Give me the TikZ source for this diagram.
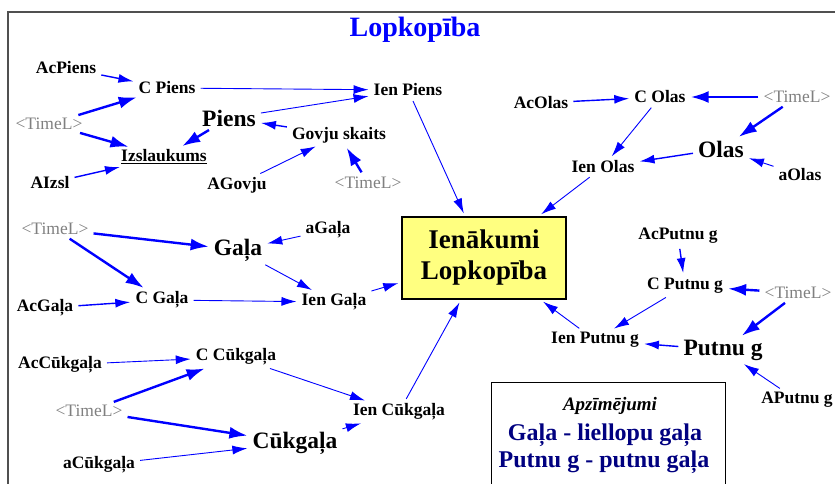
\documentclass[tikz,border=0pt]{standalone}
\usepackage{fontspec}
\setmainfont{Liberation Serif}
\usepackage{tikz}
\usetikzlibrary{arrows.meta}

\definecolor{pureblue}{RGB}{0,0,255}
\definecolor{navy}{RGB}{0,0,128}
\definecolor{framegray}{RGB}{80,80,80}
\definecolor{boxyellow}{RGB}{255,255,128}

\tikzset{
    lbl/.style={font=\bfseries\fontsize{17.5}{19}\selectfont, inner sep=2pt},
    big/.style={font=\bfseries\fontsize{23.5}{26}\selectfont, inner sep=2pt},
    timel/.style={font=\fontsize{17.5}{19}\selectfont, text=gray, inner sep=2pt},
    arr/.style={draw=pureblue, line width=0.9pt, -{Latex[length=15pt,width=9pt]},
        shorten <=3pt, shorten >=3pt},
    tarr/.style={draw=pureblue, line width=2.4pt, -{Latex[length=18pt,width=12pt]},
        shorten <=3pt, shorten >=3pt}
}

\begin{document}
\begin{tikzpicture}[x=1pt, y=-1pt]
    \useasboundingbox (0,0) rectangle (835,484);
    \draw[framegray, line width=1.5pt] (8,484) -- (8,12) -- (835,12);

    \node[font=\bfseries\fontsize{28}{30}\selectfont, text=pureblue] (title) at (415,30) {Lopkopība};

    \node[draw, line width=1.8pt, fill=boxyellow, minimum width=164pt, minimum height=82pt,
        align=center, font=\bfseries\fontsize{27}{31}\selectfont] (ien) at (484,258) {Ienākumi\\Lopkopība};

    \node[draw=black, line width=1pt, minimum width=234pt, minimum height=110pt] (legend) at (608,437) {};
    \node[font=\bfseries\itshape\fontsize{19}{21}\selectfont] (apz) at (610,406) {Apzīmējumi};
    \node[font=\bfseries\fontsize{24}{26}\selectfont, text=navy] (leg1) at (605,435) {Gaļa - liellopu gaļa};
    \node[font=\bfseries\fontsize{24}{26}\selectfont, text=navy] (leg2) at (604,462) {Putnu g - putnu gaļa};

    \node[lbl] (acpiens) at (66,68) {AcPiens};
    \node[lbl] (cpiens) at (167,88) {C Piens};
    \node[lbl] (ienpiens) at (408,90) {Ien Piens};
    \node[timel] (timea) at (49,124) {<TimeL>};
    \node[big] (piens) at (229,118) {Piens};
    \node[lbl] (govju) at (339,135) {Govju skaits};
    \node[lbl] (izsl) at (164,157) {\underline{Izslaukums}};
    \node[lbl] (aizsl) at (50,183) {AIzsl};
    \node[lbl] (agovju) at (237,185) {AGovju};
    \node[timel] (timeb) at (368,183) {<TimeL>};

    \node[lbl] (acolas) at (541,103) {AcOlas};
    \node[lbl] (colas) at (660,97) {C Olas};
    \node[timel] (timec) at (797,97) {<TimeL>};
    \node[big] (olas) at (721,149) {Olas};
    \node[lbl] (ienolas) at (603,167) {Ien Olas};
    \node[lbl] (aolas) at (800,175) {aOlas};

    \node[timel] (timed) at (55,229) {<TimeL>};
    \node[big] (gala) at (238,250) {Gaļa};
    \node[lbl] (agala) at (328,230) {aGaļa};
    \node[lbl] (cgala) at (162,300) {C Gaļa};
    \node[lbl] (iengala) at (334,302) {Ien Gaļa};
    \node[lbl] (acgala) at (45,308) {AcGaļa};

    \node[lbl] (acputnu) at (678,236) {AcPutnu g};
    \node[lbl] (cputnu) at (685,286) {C Putnu g};
    \node[timel] (timee) at (798,293) {<TimeL>};
    \node[lbl] (ienputnu) at (595,340) {Ien Putnu g};
    \node[big] (putnu) at (723,350) {Putnu g};
    \node[lbl] (aputnu) at (797,400) {APutnu g};

    \node[lbl] (accuk) at (60,365) {AcCūkgaļa};
    \node[lbl] (ccuk) at (236,357) {C Cūkgaļa};
    \node[timel] (timef) at (89,411) {<TimeL>};
    \node[lbl] (iencuk) at (399,412) {Ien Cūkgaļa};
    \node[big] (cuk) at (295,443) {Cūkgaļa};
    \node[lbl] (acuk) at (99,465) {aCūkgaļa};

    \draw[arr, line width=1.4pt] (acpiens) -- (cpiens);
    \draw[tarr] (timea) -- (cpiens);
    \draw[tarr] (timea) -- (izsl);
    \draw[arr, line width=1.4pt] (aizsl) -- (izsl);
    \draw[tarr] (piens) -- (izsl);
    \draw[arr] (cpiens) -- (ienpiens);
    \draw[arr] (piens) -- (ienpiens);
    \draw[arr, line width=1.4pt] (govju) -- (piens);
    \draw[arr] (agovju) -- (govju);
    \draw[tarr] (timeb) -- (govju);
    \draw[arr] (ienpiens) -- (ien);

    \draw[arr, line width=1.4pt] (acolas) -- (colas);
    \draw[tarr] (timec) -- (colas);
    \draw[tarr] (timec) -- (olas);
    \draw[arr] (colas) -- (ienolas);
    \draw[arr, line width=1.4pt] (olas) -- (ienolas);
    \draw[arr] (aolas) -- (olas);
    \draw[arr] (ienolas) -- (ien);

    \draw[tarr] (timed) -- (gala);
    \draw[tarr] (timed) -- (cgala);
    \draw[arr] (agala) -- (gala);
    \draw[arr] (gala) -- (iengala);
    \draw[arr, line width=1.4pt] (acgala) -- (cgala);
    \draw[arr] (cgala) -- (iengala);
    \draw[arr] (iengala) -- (ien);

    \draw[arr, line width=1.4pt] (acputnu) -- (cputnu);
    \draw[tarr] (timee) -- (cputnu);
    \draw[tarr] (timee) -- (putnu);
    \draw[arr] (cputnu) -- (ienputnu);
    \draw[arr, line width=1.4pt] (putnu) -- (ienputnu);
    \draw[arr] (aputnu) -- (putnu);
    \draw[arr] (ienputnu) -- (ien);

    \draw[arr] (accuk) -- (ccuk);
    \draw[tarr] (timef) -- (ccuk);
    \draw[tarr] (timef) -- (cuk);
    \draw[arr] (ccuk) -- (iencuk);
    \draw[arr] (acuk) -- (cuk);
    \draw[arr] (cuk) -- (iencuk);
    \draw[arr] (iencuk) -- (ien);
\end{tikzpicture}
\end{document}
